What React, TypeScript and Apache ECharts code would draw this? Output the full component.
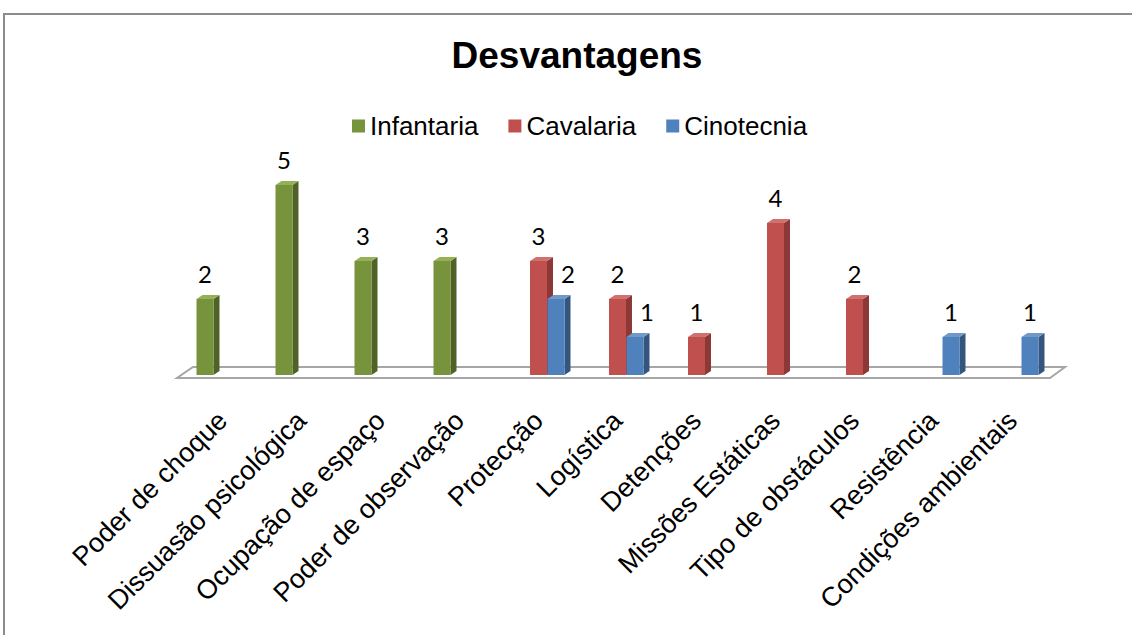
import React, { useEffect, useRef } from "react";
import * as echarts from "echarts";

const categories = [
  "Poder de choque",
  "Dissuasão psicológica",
  "Ocupação de espaço",
  "Poder de observação",
  "Protecção",
  "Logística",
  "Detenções",
  "Missões Estáticas",
  "Tipo de obstáculos",
  "Resistência",
  "Condições ambientais",
];
const infantaria = [2, 5, 3, 3, 0, 0, 0, 0, 0, 0, 0];
const cavalaria = [0, 0, 0, 0, 3, 2, 1, 4, 2, 0, 0];
const cinotecnia = [0, 0, 0, 0, 2, 1, 0, 0, 0, 1, 1];
const seriesNames = ["Infantaria", "Cavalaria", "Cinotecnia"];
const seriesValues = [infantaria, cavalaria, cinotecnia];

const palette = [
  { front: "#77933C", side: "#4F6228", top: "#94B255" },
  { front: "#C0504D", side: "#8C3836", top: "#D0716E" },
  { front: "#4F81BD", side: "#34557E", top: "#7098C9" },
];

const FONT = "Arial, 'Liberation Sans', sans-serif";

function makeRender(si: number) {
  return (params: any, api: any) => {
    const idx = api.value(0);
    const val = api.value(1);
    if (!val) return { type: "group", children: [] };
    const catW = api.size([1, 0])[0];
    const slot = catW * 0.2215;
    const bw = catW * 0.215;
    const base = api.coord([idx, 0]);
    const topP = api.coord([idx, val]);
    const cx = base[0] + (si - 1) * slot;
    const x0 = cx - bw / 2;
    const x1 = cx + bw / 2;
    const yb = base[1];
    const yt = topP[1];
    const dx = 6;
    const dy = 4;
    const c = palette[si];
    let lx = cx;
    if (si === 2 && cavalaria[idx] > 0) lx += 12;
    return {
      type: "group",
      children: [
        {
          type: "polygon",
          shape: { points: [[x1, yt], [x1 + dx, yt - dy], [x1 + dx, yb - dy], [x1, yb]] },
          style: { fill: c.side },
        },
        {
          type: "polygon",
          shape: { points: [[x0, yt], [x0 + dx, yt - dy], [x1 + dx, yt - dy], [x1, yt]] },
          style: { fill: c.top },
        },
        {
          type: "rect",
          shape: { x: x0, y: yt, width: bw, height: yb - yt },
          style: { fill: c.front },
        },
        {
          type: "text",
          x: lx,
          y: yt - 26,
          style: {
            text: String(val),
            fill: "#000",
            fontSize: 24,
            fontFamily: "Lato, 'Open Sans', sans-serif",
            align: "center",
            verticalAlign: "middle",
          },
        },
      ],
    };
  };
}

function floorRender(params: any, api: any) {
  const cs = params.coordSys;
  const x = cs.x;
  const w = cs.width;
  const yb = cs.y + cs.height;
  return {
    type: "polygon",
    shape: {
      points: [
        [x - 6, yb + 3],
        [x + w - 2, yb + 3],
        [x + w + 13, yb - 8],
        [x + 10, yb - 8],
      ],
    },
    style: { fill: "#ffffff", stroke: "#A6A6A6", lineWidth: 2 },
  };
}

export default function App() {
  const ref = useRef<HTMLDivElement>(null);
  useEffect(() => {
    if (!ref.current) return;
    const chart = echarts.init(ref.current, undefined, { renderer: "svg" });
    const option: any = {
      animation: false,
      backgroundColor: "#ffffff",
      title: {
        text: "Desvantagens",
        left: 572,
        textAlign: "center",
        top: 32,
        textStyle: { fontSize: 37, fontWeight: "bold", fontFamily: FONT, color: "#000" },
      },
      legend: {
        data: seriesNames,
        left: 347,
        top: 108,
        icon: "rect",
        itemWidth: 13,
        itemHeight: 13,
        itemGap: 30,
        textStyle: { fontSize: 26, fontFamily: FONT, color: "#000" },
      },
      grid: { left: 183, right: 80, top: 185, bottom: 260, containLabel: false },
      xAxis: {
        type: "category",
        data: categories,
        axisLine: { show: false },
        axisTick: { show: false },
        axisLabel: {
          rotate: 45,
          interval: 0,
          margin: 41,
          fontSize: 27,
          fontFamily: FONT,
          color: "#000",
        },
      },
      yAxis: { type: "value", min: 0, max: 5, show: false, splitLine: { show: false } },
      graphic: [
        {
          type: "rect",
          shape: { x: 4, y: 14, width: 1200, height: 700 },
          style: { fill: "none", stroke: "#8C8C8C", lineWidth: 2 },
          silent: true,
        },
      ],
      series: [
        {
          type: "custom",
          name: "floor",
          renderItem: floorRender,
          data: [[0, 0]],
          z: 1,
          silent: true,
          clip: false,
        },
        ...seriesNames.map((name, si) => ({
          type: "custom",
          name,
          renderItem: makeRender(si),
          data: seriesValues[si].map((v, i) => [i, v]),
          encode: { x: 0, y: 1 },
          itemStyle: { color: palette[si].front },
          z: 2 + si,
          clip: false,
        })),
      ],
    };
    chart.setOption(option);
    return () => chart.dispose();
  }, []);
  return (
    <div
      ref={ref}
      style={{ position: "fixed", left: 0, top: 0, width: 1132, height: 635, background: "#fff" }}
    />
  );
}
